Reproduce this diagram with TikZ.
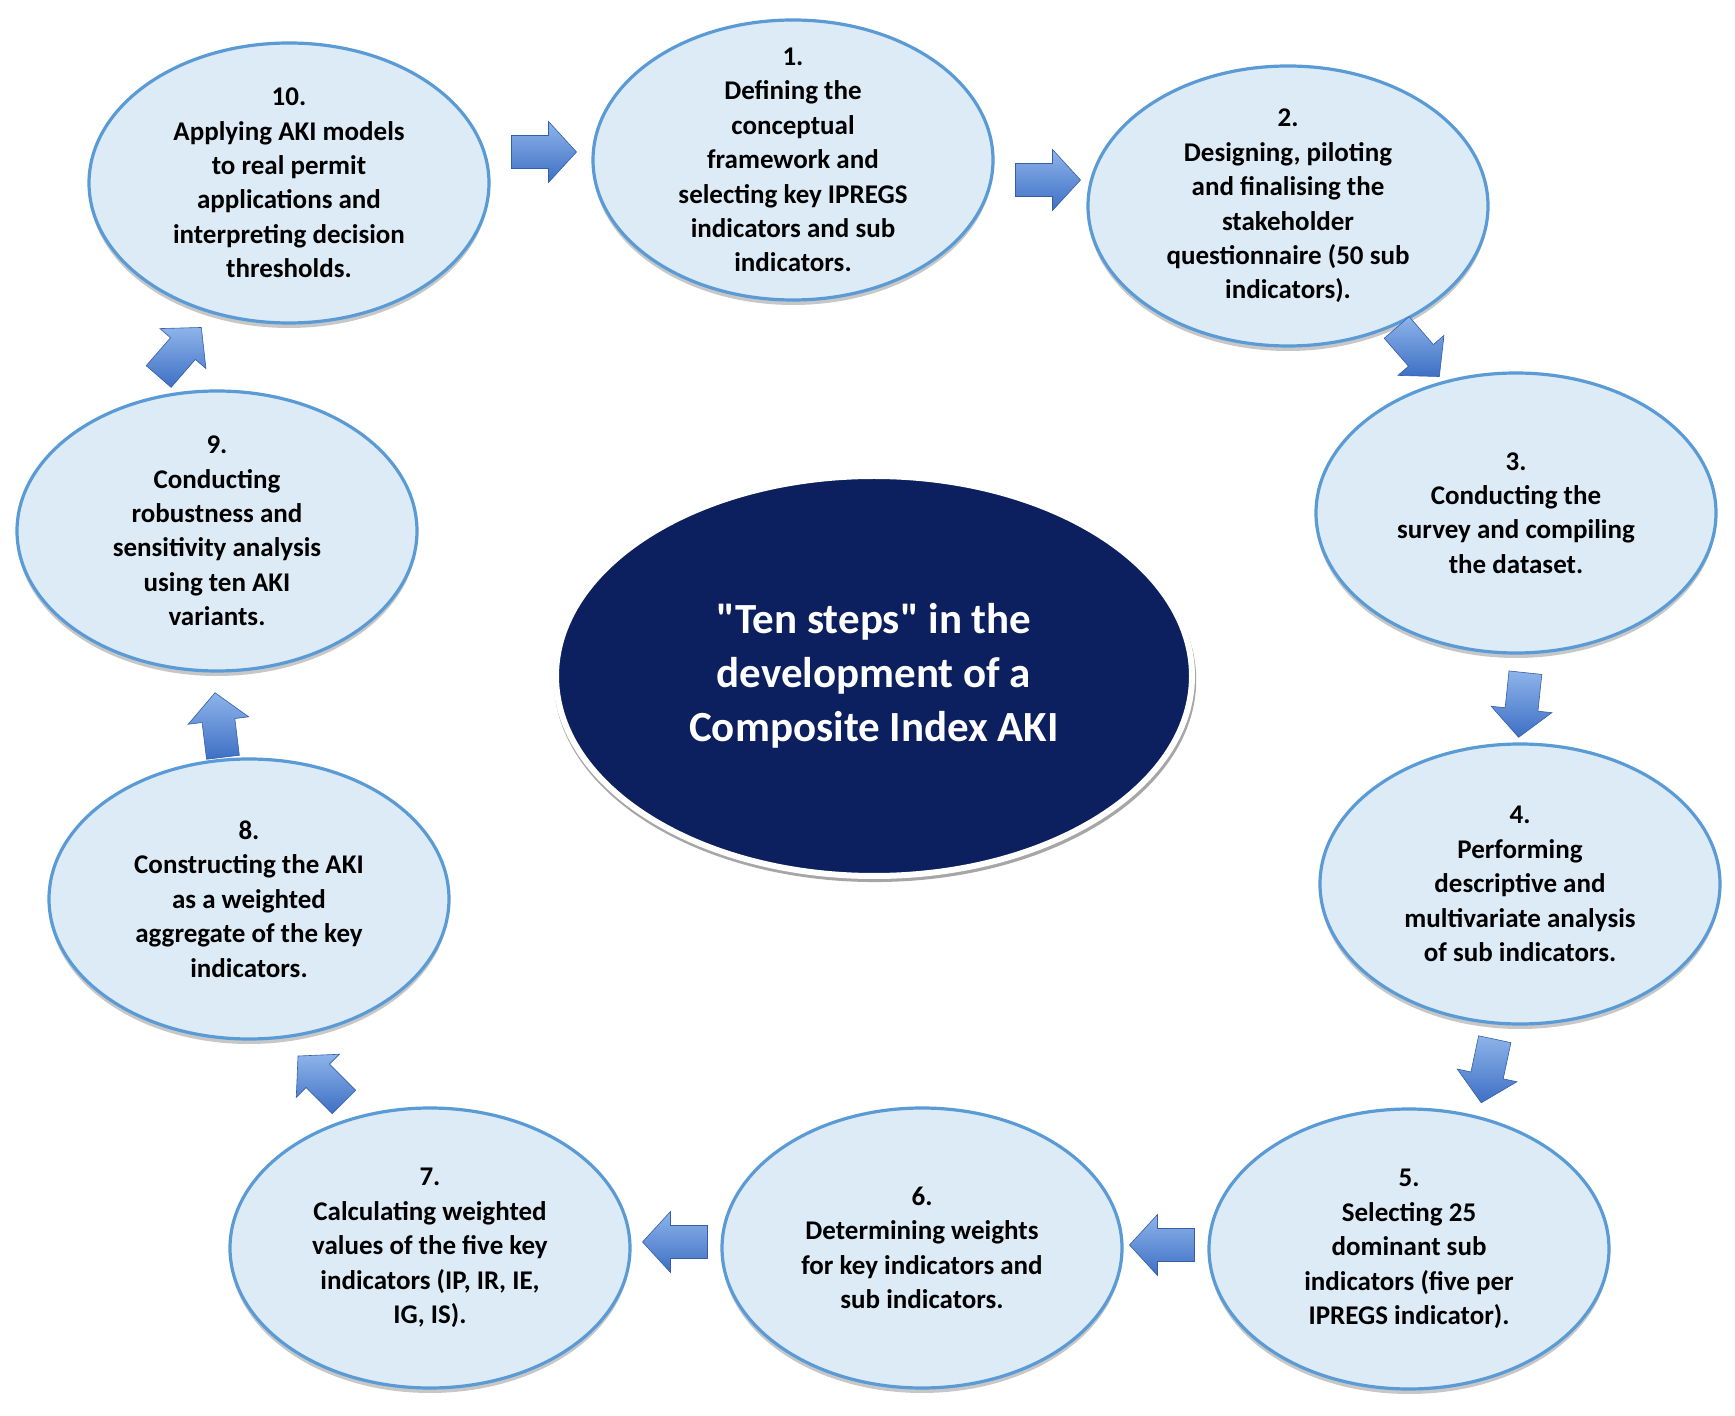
\documentclass[tikz,border=0pt]{standalone}
\usepackage{fontspec}
\setmainfont{Carlito}
\usetikzlibrary{shapes.geometric,shadows}
\definecolor{efill}{HTML}{DDEBF7}
\definecolor{eline}{HTML}{5B9BD5}
\definecolor{navy}{HTML}{0C1F5E}
\definecolor{aL}{HTML}{8DB4EA}
\definecolor{aD}{HTML}{3E6FC4}
\tikzset{
  stepell/.style={ellipse, draw=eline, line width=1.6pt, fill=efill,
    minimum width=200pt, minimum height=140pt, inner sep=0pt,
    drop shadow={shadow xshift=0pt, shadow yshift=-2.5pt, opacity=0.22, fill=black}},
  steptext/.style={align=center, font=\fontsize{13.5}{17.2}\selectfont\bfseries,
    text=black, inner sep=0pt},
  hubell/.style={ellipse, fill=navy, draw=white, line width=3pt,
    minimum width=318pt, minimum height=200pt, inner sep=0pt,
    drop shadow={shadow xshift=0.5pt, shadow yshift=-2pt, shadow scale=1.01, opacity=0.35, fill=black}},
  hubtext/.style={align=center, font=\fontsize{21.5}{27}\selectfont\bfseries,
    text=white, inner sep=0pt},
  blockarrow/.pic={
    \shade[top color=aL, bottom color=aD, draw=aD!85!black, line width=0.3pt]
      (-32.5,-16.5) -- (4.5,-16.5) -- (4.5,-30.5) -- (32.5,0) --
      (4.5,30.5) -- (4.5,16.5) -- (-32.5,16.5) -- cycle;
  }
}
\begin{document}
\begin{tikzpicture}[x=0.5pt, y=-0.5pt]
\useasboundingbox (0,0) rectangle (1735,1416);
\fill[white] (0,0) rectangle (1735,1416);

% step ellipses
\node[stepell] (s10) at (289,183) {};
\node[stepell] (s1)  at (793,160) {};
\node[stepell] (s2)  at (1288,206) {};
\node[stepell] (s3)  at (1516,513) {};
\node[stepell] (s4)  at (1520,884) {};
\node[stepell] (s5)  at (1409,1249) {};
\node[stepell] (s6)  at (922,1248) {};
\node[stepell] (s7)  at (430,1248) {};
\node[stepell] (s8)  at (249,899) {};
\node[stepell] (s9)  at (217,531) {};

% hub
\node[hubell] (hub) at (874,676) {};
\node[hubtext] (hubt) at (hub) {\textquotedbl Ten steps\textquotedbl\ in the\\development of a\\Composite Index AKI};

% texts
\node[steptext] (t10) at (s10) {10.\\Applying AKI models\\to real permit\\applications and\\interpreting decision\\thresholds.};
\node[steptext] (t1) at (s1) {1.\\Defining the\\conceptual\\framework and\\selecting key IPREGS\\indicators and sub\\indicators.};
\node[steptext] (t2) at (s2) {2.\\Designing, piloting\\and finalising the\\stakeholder\\questionnaire (50 sub\\indicators).};
\node[steptext] (t3) at (s3) {3.\\Conducting the\\survey and compiling\\the dataset.};
\node[steptext] (t4) at (s4) {4.\\Performing\\descriptive and\\multivariate analysis\\of sub indicators.};
\node[steptext] (t5) at (s5) {5.\\Selecting 25\\dominant sub\\indicators (five per\\IPREGS indicator).};
\node[steptext] (t6) at (s6) {6.\\Determining weights\\for key indicators and\\sub indicators.};
\node[steptext] (t7) at (s7) {7.\\Calculating weighted\\values of the five key\\indicators (IP, IR, IE,\\IG, IS).};
\node[steptext] (t8) at (s8) {8.\\Constructing the AKI\\as a weighted\\aggregate of the key\\indicators.};
\node[steptext] (t9) at (s9) {9.\\Conducting\\robustness and\\sensitivity analysis\\using ten AKI\\variants.};

% block arrows
\pic[rotate=0]    at (544,152)  {blockarrow};
\pic[rotate=0]    at (1048,180) {blockarrow};
\pic[rotate=-49]  at (1418,352) {blockarrow};
\pic[rotate=-96]  at (1522,705) {blockarrow};
\pic[rotate=-102] at (1488,1071) {blockarrow};
\pic[rotate=180]  at (1162,1245) {blockarrow};
\pic[rotate=180]  at (675,1242) {blockarrow};
\pic[rotate=135]  at (321,1079) {blockarrow};
\pic[rotate=97]   at (219,725)  {blockarrow};
\pic[rotate=49]   at (180,352)  {blockarrow};
\end{tikzpicture}
\end{document}
